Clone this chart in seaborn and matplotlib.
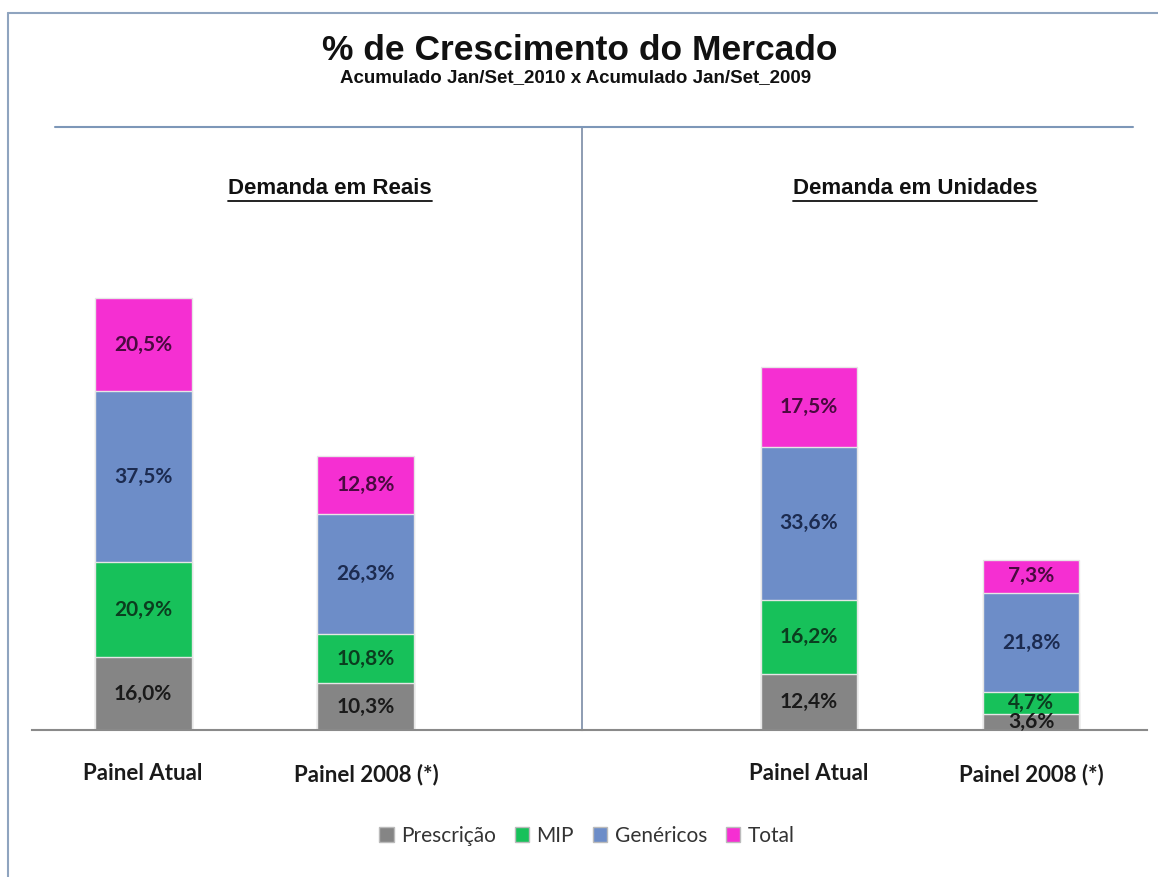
import matplotlib
matplotlib.use('Agg')
import matplotlib.pyplot as plt
import matplotlib.patches as mpatches
from matplotlib.lines import Line2D
import numpy as np
import seaborn as sns

sns.set_theme(style='white')
plt.rcParams['font.family'] = ['Lato', 'DejaVu Sans']

# Data
paineis = ['Painel Atual', 'Painel 2008 (*)']
series = ['Prescrição', 'MIP', 'Genéricos', 'Total']
prescricao_reais = [16.0, 10.3]
mip_reais = [20.9, 10.8]
genericos_reais = [37.5, 26.3]
total_reais = [20.5, 12.8]
prescricao_unid = [12.4, 3.6]
mip_unid = [16.2, 4.7]
genericos_unid = [33.6, 21.8]
total_unid = [17.5, 7.3]

colors = ['#858585', '#17c15a', '#6d8dc8', '#f52fd2']
text_colors = ['#1a1a1a', '#0b3d1f', '#1c2b50', '#4a0a40']

W, H = 1158, 877
fig = plt.figure(figsize=(W / 100, H / 100), dpi=100)
fig.patch.set_facecolor('white')

def px(x0, y0, x1, y1):
    return [x0 / W, 1 - y1 / H, (x1 - x0) / W, (y1 - y0) / H]

ax_l = fig.add_axes(px(32, 127, 582, 730))
ax_r = fig.add_axes(px(582, 127, 1147, 730))

def stacked(ax, segs, xlim):
    cum = np.cumsum(np.array(segs), axis=0)
    # draw tallest first so smaller stacks overlay
    for i in range(len(segs) - 1, -1, -1):
        sns.barplot(x=paineis, y=cum[i], color=colors[i], width=0.435,
                    edgecolor='#e6e6e6', linewidth=1.0, saturation=1, ax=ax)
    for i in range(len(segs)):
        for j in range(len(paineis)):
            yc = cum[i][j] - segs[i][j] / 2
            ax.text(j, yc, f'{segs[i][j]:.1f}%'.replace('.', ','), ha='center', va='center',
                    fontsize=15, fontweight='bold', color=text_colors[i])
    ax.set_ylim(0, 132.5)
    ax.set_xlim(*xlim)
    ax.set_yticks([])
    ax.set_xlabel('')
    ax.set_ylabel('')
    for s in ['top', 'right', 'left']:
        ax.spines[s].set_visible(False)
    ax.spines['bottom'].set_color('#8a8a8a')
    ax.spines['bottom'].set_linewidth(1.5)
    ax.tick_params(axis='x', length=0, pad=24)
    for lbl in ax.get_xticklabels():
        lbl.set_fontsize(16)
        lbl.set_fontweight('bold')
        lbl.set_color('#1a1a1a')
    ax.patch.set_alpha(0)

stacked(ax_l, [prescricao_reais, mip_reais, genericos_reais, total_reais], (-0.498, 1.969))
stacked(ax_r, [prescricao_unid, mip_unid, genericos_unid, total_unid], (-1.023, 1.523))

ax_r.spines['left'].set_visible(True)
ax_r.spines['left'].set_color('#7a8ba6')
ax_r.spines['left'].set_linewidth(1.2)

# frame and title rule
fig.add_artist(Line2D([8 / W, 8 / W], [0, 1 - 13 / H], color='#8fa4bf', lw=1.5))
fig.add_artist(Line2D([8 / W, 1], [1 - 13 / H, 1 - 13 / H], color='#8fa4bf', lw=1.5))
fig.add_artist(Line2D([55 / W, 1133 / W], [1 - 127 / H, 1 - 127 / H], color='#7d97b8', lw=1.5))

fig.text(580 / W, 1 - 50 / H, '% de Crescimento do Mercado', ha='center', va='center',
         fontsize=25.5, fontweight='bold', family=['Liberation Sans', 'DejaVu Sans'], color='#111111')
fig.text(576 / W, 1 - 78 / H, 'Acumulado Jan/Set_2010 x Acumulado Jan/Set_2009', ha='center',
         va='center', fontsize=13.5, fontweight='bold',
         family=['Liberation Sans', 'DejaVu Sans'], color='#111111')

# panel headers, underlined
heads = []
for xc, label in [(330, 'Demanda em Reais'), (915, 'Demanda em Unidades')]:
    t = fig.text(xc / W, 1 - 189 / H, label, ha='center', va='center', fontsize=16,
                 fontweight='bold', family=['Liberation Sans', 'DejaVu Sans'], color='#111111')
    heads.append(t)
fig.canvas.draw()
r = fig.canvas.get_renderer()
for t in heads:
    bb = t.get_window_extent(r)
    yline = (bb.y0 - 1) / H
    fig.add_artist(Line2D([bb.x0 / W, bb.x1 / W], [yline, yline], color='#111111', lw=1.3))

handles = [mpatches.Patch(facecolor=c, edgecolor='#bbbbbb', label=s) for c, s in zip(colors, series)]
fig.legend(handles=handles, loc='center', bbox_to_anchor=(587 / W, 1 - 836 / H), ncol=4,
           frameon=False, fontsize=15, handlelength=0.7, handleheight=0.7, handletextpad=0.35,
           columnspacing=0.9, labelcolor='#333333')

fig.savefig('out.png', dpi=100, facecolor='white')
